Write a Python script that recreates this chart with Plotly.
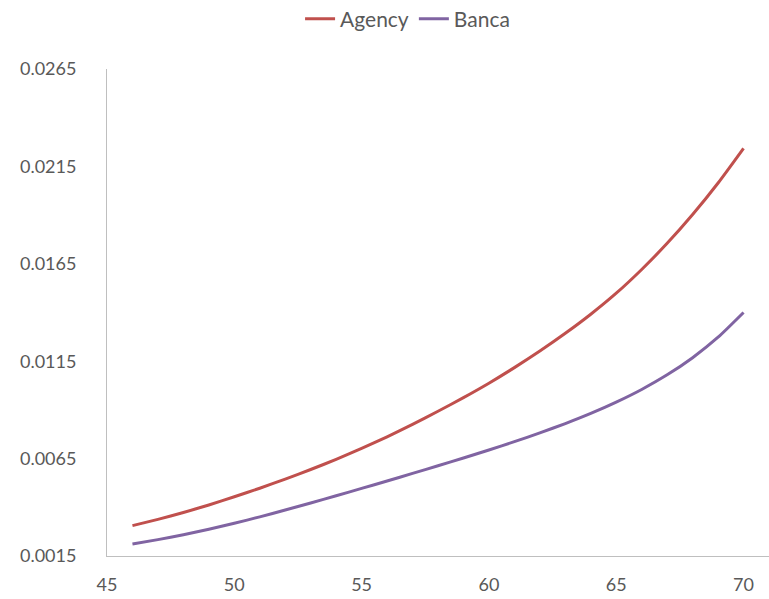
import plotly.graph_objects as go

# Age at entry
ages = list(range(46, 71))

# Rate by channel
agency = [0.00306, 0.00338, 0.00373, 0.00412, 0.00454, 0.00498, 0.00545, 0.00594,
          0.00646, 0.00702, 0.00762, 0.00826, 0.00893, 0.00963, 0.01037, 0.01117,
          0.01202, 0.01293, 0.01391, 0.01499, 0.01621, 0.01755, 0.01903, 0.02065,
          0.02243]
banca = [0.00212, 0.00234, 0.00259, 0.00287, 0.00318, 0.00351, 0.00386, 0.00422,
         0.00459, 0.00497, 0.00535, 0.00574, 0.00613, 0.00653, 0.00694, 0.00737,
         0.00782, 0.00830, 0.00882, 0.00940, 0.01005, 0.01080, 0.01168, 0.01273,
         0.01400]

y_ticks = [0.0015, 0.0065, 0.0115, 0.0165, 0.0215, 0.0265]
x_ticks = [45, 50, 55, 60, 65, 70]

font_family = "Lato, Open Sans, sans-serif"
grey = "#595959"

fig = go.Figure()
fig.add_trace(go.Scatter(x=ages, y=agency, mode="lines", name="Agency",
                         line=dict(color="#C0504D", width=3, shape="spline", smoothing=0.6)))
fig.add_trace(go.Scatter(x=ages, y=banca, mode="lines", name="Banca",
                         line=dict(color="#8064A2", width=3, shape="spline", smoothing=0.6)))

fig.update_layout(
    width=769, height=599,
    margin=dict(l=107, r=0, t=69, b=43, autoexpand=False),
    paper_bgcolor="white", plot_bgcolor="white",
    font=dict(family=font_family, size=18, color=grey),
    legend=dict(orientation="h", x=0.53, xanchor="center", xref="container",
                y=1 - 19 / 599, yanchor="middle", yref="container",
                font=dict(size=21, color=grey), bgcolor="rgba(0,0,0,0)"),
    showlegend=True,
)
fig.update_xaxes(range=[45, 71], tickvals=x_ticks, ticktext=[str(t) for t in x_ticks],
                 showgrid=False, zeroline=False, showline=True, linecolor="#BFBFBF",
                 linewidth=1, ticks="", ticklabelstandoff=12)
fig.update_yaxes(range=[0.0015, 0.0265], tickvals=y_ticks,
                 ticktext=[f"{t:.4f}" for t in y_ticks],
                 showgrid=False, zeroline=False, showline=True, linecolor="#BFBFBF",
                 linewidth=1, ticks="", ticklabelstandoff=26)

fig.write_html("out.html")
